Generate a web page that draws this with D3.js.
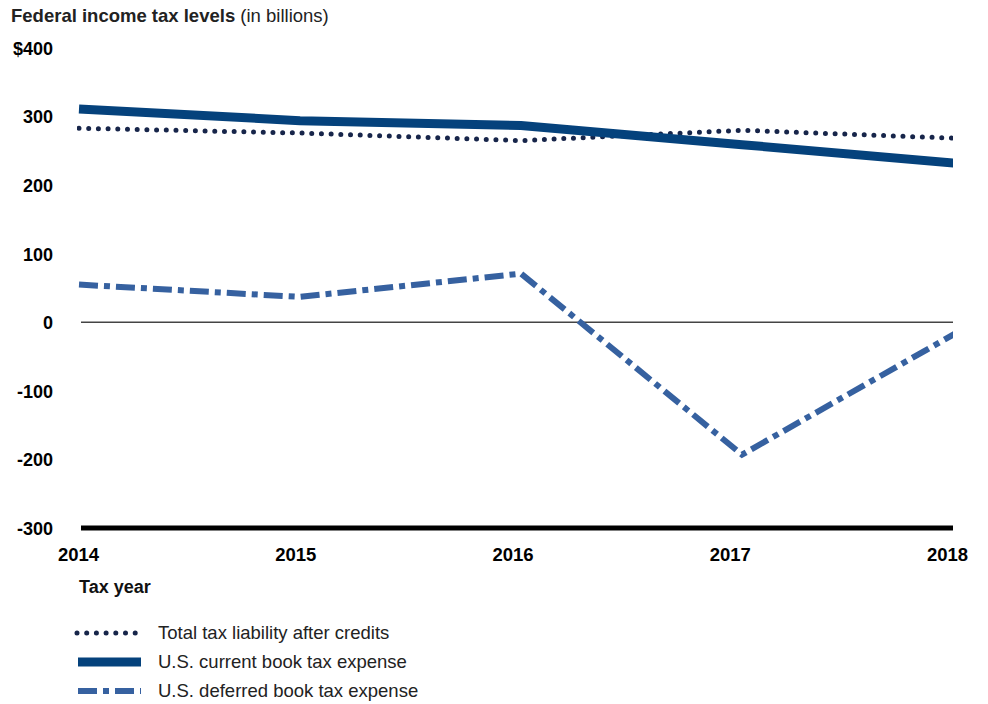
<!DOCTYPE html>
<html><head><meta charset="utf-8">
<script src="https://cdn.jsdelivr.net/npm/d3@7"></script>
<style>body{margin:0;background:#fff}svg{display:block}</style>
</head><body>
<script>
const years = [2014, 2015, 2016, 2017, 2018];
const totalLiability = [283, 276, 265, 280, 268];
const currentBook = [311, 294, 287, 259, 231];
const deferredBook = [55, 37, 71, -193, -10];
const yTicks = [400, 300, 200, 100, 0, -100, -200, -300];
const seriesNames = ["Total tax liability after credits", "U.S. current book tax expense", "U.S. deferred book tax expense"];

const W = 988, H = 704;
const svg = d3.select("body").append("svg").attr("width", W).attr("height", H);
const x = d3.scaleLinear().domain([2014, 2018]).range([79, 963]);
const xLabel = d3.scaleLinear().domain([2014, 2018]).range([78, 947]);
const y = d3.scaleLinear().domain([-300, 400]).range([528, 48]);
const font = "'Liberation Sans', Arial, sans-serif";
const plotLeft = 79, plotRight = 953;

svg.append("defs").append("clipPath").attr("id", "plotclip")
  .append("rect").attr("x", plotLeft - 2).attr("y", 0).attr("width", plotRight - plotLeft + 2).attr("height", H);

// title
const t = svg.append("text").attr("x", 11).attr("y", 22).attr("font-family", font).attr("font-size", 18.5).attr("fill", "#222");
t.append("tspan").attr("font-weight", "bold").text("Federal income tax levels");
t.append("tspan").text(" (in billions)");

// y axis labels
const yAxis = d3.axisLeft(y).tickValues(yTicks).tickSize(0).tickPadding(0)
  .tickFormat(d => d === 400 ? "$400" : String(d));
const gy = svg.append("g").attr("transform", "translate(53,0)").call(yAxis);
gy.select(".domain").remove();
gy.selectAll("text").attr("font-family", font).attr("font-size", 18).attr("font-weight", "bold").attr("fill", "#000").attr("dy", "0.35em");

// zero line
svg.append("line").attr("x1", 81).attr("x2", plotRight).attr("y1", y(0)).attr("y2", y(0))
  .attr("stroke", "#444").attr("stroke-width", 1.5);
// bottom axis line
svg.append("line").attr("x1", 81).attr("x2", plotRight).attr("y1", y(-300)).attr("y2", y(-300))
  .attr("stroke", "#000").attr("stroke-width", 5);

// x axis labels
const xAxis = d3.axisBottom(xLabel).tickValues(years).tickSize(0).tickPadding(0).tickFormat(d3.format("d"));
const gx = svg.append("g").attr("transform", "translate(0,561)").call(xAxis);
gx.select(".domain").remove();
gx.selectAll("text").attr("font-family", font).attr("font-size", 18.5).attr("font-weight", "bold").attr("fill", "#000").attr("dy", 0);

svg.append("text").attr("x", 79).attr("y", 593).attr("font-family", font).attr("font-size", 18).attr("font-weight", "bold").attr("fill", "#111").text("Tax year");

const styles = [
  {color: "#17254a", width: 5, dash: "0 9.7", cap: "round"},
  {color: "#05427c", width: 9, dash: null, cap: "butt"},
  {color: "#3661a0", width: 6, dash: "19 6 6 6", cap: "butt"}
];
const data = [totalLiability, currentBook, deferredBook];
const line = d3.line().x((d, i) => x(years[i])).y(d => y(d));

const gLines = svg.append("g").attr("clip-path", "url(#plotclip)");
[2, 0, 1].forEach(k => {
  const s = styles[k];
  const p = gLines.append("path").datum(data[k]).attr("d", line).attr("fill", "none")
    .attr("stroke", s.color).attr("stroke-width", s.width).attr("stroke-linecap", s.cap).attr("stroke-linejoin", "miter");
  if (s.dash) p.attr("stroke-dasharray", s.dash);
});

// legend
const lg = svg.append("g");
seriesNames.forEach((name, k) => {
  const s = styles[k];
  const yy = 633 + k * 29;
  const l = lg.append("line").attr("x1", k === 0 ? 77 : 78).attr("x2", k === 0 ? 140 : 141).attr("y1", yy).attr("y2", yy)
    .attr("stroke", s.color).attr("stroke-width", s.width).attr("stroke-linecap", s.cap);
  if (s.dash) l.attr("stroke-dasharray", s.dash);
  lg.append("text").attr("x", 158).attr("y", yy).attr("dy", "0.35em").attr("font-family", font)
    .attr("font-size", 18.5).attr("fill", "#222").text(name);
});
</script>
</body></html>
